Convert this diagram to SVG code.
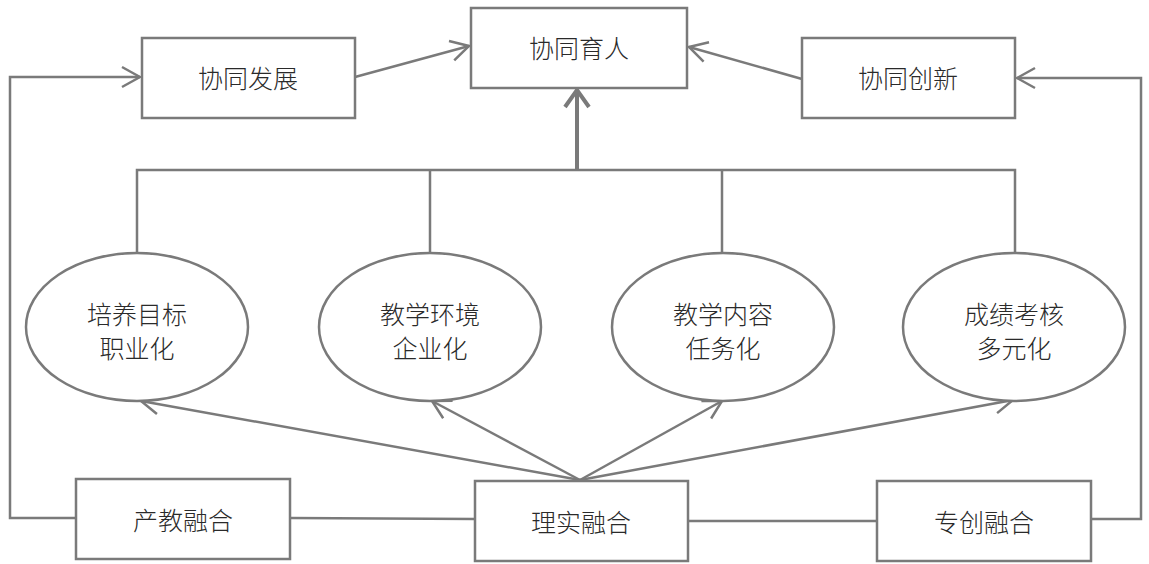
<svg xmlns="http://www.w3.org/2000/svg" width="1149" height="564" viewBox="0 0 1149 564">
<defs>
<style>
.box{fill:#fff;stroke:#7a7a7a;stroke-width:2.5}
.ell{fill:#fff;stroke:#7a7a7a;stroke-width:2.5}
.ln{fill:none;stroke:#7a7a7a;stroke-width:2.5}
.thick{fill:none;stroke:#7a7a7a;stroke-width:4}
.t{font-family:"Noto Sans CJK SC","Noto Sans",sans-serif;font-size:25px;font-weight:300;fill:#2a2a2a;text-anchor:middle;dominant-baseline:central}
</style>
<marker id="arr" viewBox="0 0 22 24" refX="20" refY="12" markerWidth="22" markerHeight="24" markerUnits="userSpaceOnUse" orient="auto">
<path d="M2,2 L20,12 L2,22" fill="none" stroke="#7a7a7a" stroke-width="2.5"/>
</marker>
<marker id="arrT" viewBox="0 0 22 28" refX="19" refY="14" markerWidth="22" markerHeight="28" markerUnits="userSpaceOnUse" orient="auto">
<path d="M2,2 L19,14 L2,26" fill="none" stroke="#7a7a7a" stroke-width="4"/>
</marker>
</defs>
<rect width="1149" height="564" fill="#fff"/>
<g id="connectors">
<polyline class="ln" points="76,518 10,518 10,77 140,77" marker-end="url(#arr)"/>
<polyline class="ln" points="1091,519 1141,519 1141,78 1017,78" marker-end="url(#arr)"/>
<polyline class="ln" points="137,253 137,170 1015,170 1015,253"/>
<line class="ln" x1="430" y1="170" x2="430" y2="253"/>
<line class="ln" x1="722" y1="170" x2="722" y2="253"/>
<line class="thick" x1="577" y1="170" x2="577" y2="90" marker-end="url(#arrT)"/>
<line class="ln" x1="355" y1="77" x2="469" y2="46" marker-end="url(#arr)"/>
<line class="ln" x1="802" y1="79" x2="689" y2="47" marker-end="url(#arr)"/>
<line class="ln" x1="290" y1="518" x2="475" y2="519"/>
<line class="ln" x1="688" y1="521" x2="877" y2="521"/>
<line class="ln" x1="580" y1="480" x2="141" y2="401" marker-end="url(#arr)"/>
<line class="ln" x1="580" y1="480" x2="432" y2="401" marker-end="url(#arr)"/>
<line class="ln" x1="580" y1="480" x2="722" y2="401" marker-end="url(#arr)"/>
<line class="ln" x1="580" y1="480" x2="1013" y2="400" marker-end="url(#arr)"/>
</g>
<g id="n-xtyr"><rect class="box" x="471" y="8" width="216" height="80"/><text class="t" x="579" y="47">协同育人</text></g>
<g id="n-xtfz"><rect class="box" x="142" y="38" width="213" height="80"/><text class="t" x="248" y="77">协同发展</text></g>
<g id="n-xtcx"><rect class="box" x="802" y="38" width="213" height="80"/><text class="t" x="908" y="77">协同创新</text></g>
<g id="n-e1"><ellipse class="ell" cx="137" cy="327" rx="111" ry="74"/><text class="t" x="137" y="313">培养目标</text><text class="t" x="137" y="347">职业化</text></g>
<g id="n-e2"><ellipse class="ell" cx="430" cy="327" rx="111" ry="74"/><text class="t" x="430" y="313">教学环境</text><text class="t" x="430" y="347">企业化</text></g>
<g id="n-e3"><ellipse class="ell" cx="723" cy="327" rx="111" ry="74"/><text class="t" x="723" y="313">教学内容</text><text class="t" x="723" y="347">任务化</text></g>
<g id="n-e4"><ellipse class="ell" cx="1014" cy="327" rx="111" ry="74"/><text class="t" x="1014" y="313">成绩考核</text><text class="t" x="1014" y="347">多元化</text></g>
<g id="n-cjrh"><rect class="box" x="76" y="479" width="214" height="80"/><text class="t" x="183" y="519">产教融合</text></g>
<g id="n-lsrh"><rect class="box" x="475" y="481" width="213" height="80"/><text class="t" x="581" y="521">理实融合</text></g>
<g id="n-zcrh"><rect class="box" x="877" y="481" width="214" height="80"/><text class="t" x="984" y="521">专创融合</text></g>
</svg>
